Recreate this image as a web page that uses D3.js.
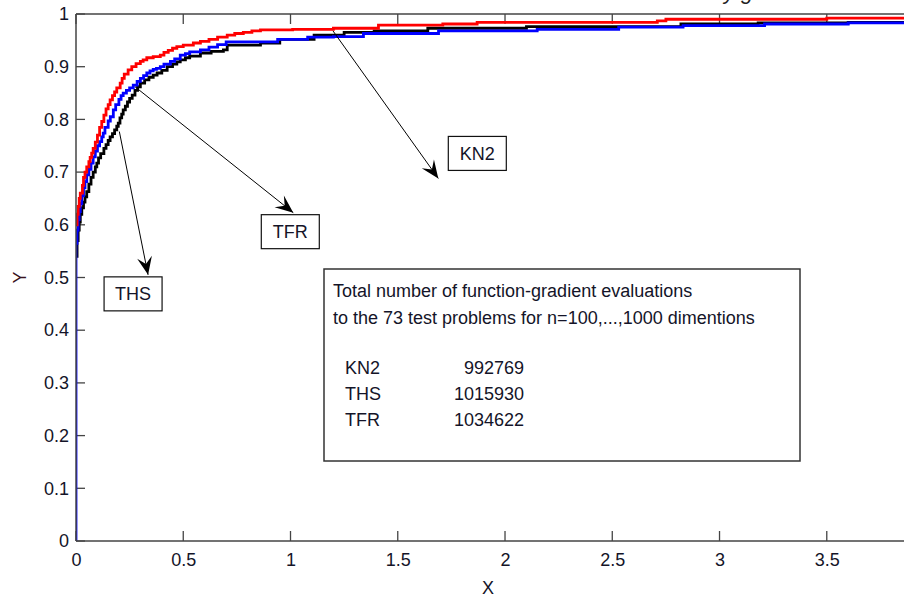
<!DOCTYPE html>
<html>
<head>
<meta charset="utf-8">
<script src="https://cdn.jsdelivr.net/npm/d3@7/dist/d3.min.js"></script>
<style>
  html, body { margin: 0; padding: 0; background: #fff; }
  svg { display: block; }
  text { font-family: "Liberation Sans", Arial, sans-serif; }
</style>
</head>
<body>
<svg id="chart" width="904" height="599"></svg>
<script>
// ---- data ----
const xTicks = [0, 0.5, 1, 1.5, 2, 2.5, 3, 3.5];
const yTicks = [0, 0.1, 0.2, 0.3, 0.4, 0.5, 0.6, 0.7, 0.8, 0.9, 1];
const yTickLabels = ["0", "0.1", "0.2", "0.3", "0.4", "0.5", "0.6", "0.7", "0.8", "0.9", "1"];

const redX = [0, 0.005, 0.01, 0.015, 0.02, 0.03, 0.035, 0.042, 0.05, 0.06, 0.066, 0.073, 0.08, 0.09, 0.1, 0.11, 0.12, 0.13, 0.14, 0.15, 0.159, 0.17, 0.18, 0.19, 0.206, 0.215, 0.225, 0.243, 0.26, 0.28, 0.3, 0.313, 0.33, 0.36, 0.393, 0.41, 0.43, 0.45, 0.47, 0.5, 0.547, 0.58, 0.62, 0.66, 0.705, 0.74, 0.78, 0.82, 0.86, 1.01, 1.2, 1.41, 1.71, 1.87, 2.71, 2.75, 3.5, 4];
const redY = [0.60, 0.62, 0.635, 0.65, 0.66, 0.675, 0.69, 0.70, 0.71, 0.72, 0.728, 0.736, 0.745, 0.757, 0.77, 0.785, 0.796, 0.808, 0.82, 0.828, 0.837, 0.845, 0.852, 0.86, 0.869, 0.878, 0.886, 0.894, 0.90, 0.906, 0.91, 0.913, 0.917, 0.919, 0.922, 0.927, 0.931, 0.935, 0.938, 0.941, 0.945, 0.948, 0.952, 0.956, 0.960, 0.963, 0.965, 0.968, 0.970, 0.971, 0.973, 0.979, 0.981, 0.984, 0.987, 0.990, 0.992, 0.992];

const blueX = [0, 0, 0.005, 0.01, 0.015, 0.02, 0.027, 0.035, 0.042, 0.05, 0.06, 0.07, 0.08, 0.09, 0.1, 0.11, 0.12, 0.127, 0.135, 0.15, 0.16, 0.174, 0.185, 0.2, 0.21, 0.22, 0.235, 0.25, 0.267, 0.285, 0.3, 0.315, 0.33, 0.345, 0.36, 0.375, 0.393, 0.41, 0.44, 0.46, 0.486, 0.51, 0.53, 0.58, 0.62, 0.66, 0.70, 0.86, 0.94, 1.08, 1.2, 1.34, 1.69, 2.15, 2.53, 2.83, 3.21, 3.6, 4];
const blueY = [0, 0.565, 0.59, 0.61, 0.625, 0.64, 0.655, 0.67, 0.682, 0.695, 0.705, 0.717, 0.729, 0.74, 0.75, 0.758, 0.767, 0.774, 0.785, 0.797, 0.805, 0.818, 0.828, 0.838, 0.845, 0.850, 0.855, 0.86, 0.865, 0.872, 0.878, 0.883, 0.888, 0.892, 0.895, 0.897, 0.90, 0.905, 0.91, 0.915, 0.922, 0.925, 0.928, 0.932, 0.937, 0.942, 0.947, 0.947, 0.952, 0.956, 0.957, 0.963, 0.968, 0.971, 0.975, 0.978, 0.981, 0.983, 0.983];

const blackX = [0, 0.005, 0.01, 0.015, 0.02, 0.027, 0.035, 0.042, 0.05, 0.06, 0.07, 0.08, 0.09, 0.097, 0.105, 0.115, 0.13, 0.14, 0.15, 0.159, 0.17, 0.18, 0.19, 0.197, 0.205, 0.213, 0.22, 0.23, 0.24, 0.25, 0.262, 0.275, 0.287, 0.3, 0.32, 0.34, 0.36, 0.378, 0.4, 0.425, 0.45, 0.47, 0.486, 0.51, 0.53, 0.58, 0.63, 0.687, 0.705, 0.86, 0.95, 1.11, 1.25, 1.39, 1.64, 2.1, 2.82, 3.18, 3.6, 4];
const blackY = [0.54, 0.57, 0.59, 0.605, 0.62, 0.632, 0.643, 0.653, 0.663, 0.677, 0.69, 0.70, 0.71, 0.717, 0.727, 0.735, 0.745, 0.752, 0.76, 0.767, 0.773, 0.78, 0.787, 0.793, 0.803, 0.81, 0.818, 0.825, 0.833, 0.84, 0.846, 0.855, 0.862, 0.869, 0.875, 0.88, 0.884, 0.888, 0.893, 0.90, 0.905, 0.909, 0.913, 0.917, 0.92, 0.926, 0.929, 0.932, 0.941, 0.945, 0.952, 0.960, 0.965, 0.968, 0.973, 0.976, 0.981, 0.983, 0.984, 0.984];

const labelNames = ["THS", "TFR", "KN2"];
// arrow tail / head in data coordinates
const arrowFromX = [0.202, 0.275, 1.198];
const arrowFromY = [0.777, 0.862, 0.968];
const arrowToX = [0.336, 1.013, 1.689];
const arrowToY = [0.505, 0.623, 0.688];

const infoLines = ["Total number of function-gradient evaluations", "to the 73 test problems for n=100,...,1000 dimentions"];
const solverNames = ["KN2", "THS", "TFR"];
const evalTotals = ["992769", "1015930", "1034622"];

// ---- layout ----
const svg = d3.select("#chart");
const mLeft = 76, mTop = 14, mBottom = 541, mRight = 904;
const x = d3.scaleLinear().domain([0, 3.86]).range([mLeft, mRight]);
const y = d3.scaleLinear().domain([0, 1]).range([mBottom, mTop]);
const axisColor = "#444";
const textColor = "#141428";

// title fragments (the title line is cut off at the top in the reference)
const titleG = svg.append("g").attr("font-family", "'Liberation Serif', 'Times New Roman', serif")
  .attr("font-style", "italic").attr("font-size", 22).attr("fill", "#222");
titleG.append("text").attr("x", 271).attr("y", -1).text("f");
titleG.append("text").attr("x", 724).attr("y", -1).text("y g");

// axes
const axG = svg.append("g");
const xAxis = d3.axisBottom(x).tickValues(xTicks).tickSize(0).tickPadding(12).tickFormat(d3.format("~g"));
const gx = axG.append("g").attr("transform", `translate(0,${mBottom})`).call(xAxis);
gx.select(".domain").remove();
gx.selectAll("text").attr("font-size", 18).attr("fill", textColor).attr("font-family", "'Liberation Sans', Arial, sans-serif");

const yAxis = d3.axisLeft(y).tickValues(yTicks).tickSize(0).tickPadding(7).tickFormat((d, i) => yTickLabels[i]);
const gy = axG.append("g").attr("transform", `translate(${mLeft},0)`).call(yAxis);
gy.select(".domain").remove();
gy.selectAll("text").attr("font-size", 18).attr("fill", textColor).attr("font-family", "'Liberation Sans', Arial, sans-serif");

// inward ticks
const tickG = svg.append("g").attr("stroke", axisColor).attr("stroke-width", 1.3);
xTicks.forEach(t => {
  tickG.append("line").attr("x1", x(t)).attr("x2", x(t)).attr("y1", mBottom).attr("y2", mBottom - 10);
  tickG.append("line").attr("x1", x(t)).attr("x2", x(t)).attr("y1", mTop).attr("y2", mTop + 10);
});
yTicks.forEach(t => {
  tickG.append("line").attr("x1", mLeft).attr("x2", mLeft + 9).attr("y1", y(t)).attr("y2", y(t));
});

// curves
const line = d3.line().x(d => x(d[0])).y(d => y(d[1])).curve(d3.curveStepAfter);
const series = [
  { xs: blackX, ys: blackY, color: "#000000" },
  { xs: blueX, ys: blueY, color: "#0000ff" },
  { xs: redX, ys: redY, color: "#ff0000" }
];
svg.append("clipPath").attr("id", "clip").append("rect")
  .attr("x", mLeft).attr("y", mTop - 2).attr("width", mRight - mLeft + 10).attr("height", mBottom - mTop + 4);
series.forEach(s => {
  svg.append("path").datum(s.xs.map((v, i) => [v, s.ys[i]]))
    .attr("clip-path", "url(#clip)")
    .attr("fill", "none").attr("stroke", s.color).attr("stroke-width", 2.8)
    .attr("d", line);
});

// axis box lines
const boxG = svg.append("g").attr("stroke", axisColor).attr("stroke-width", 1.5).attr("fill", "none");
boxG.append("line").attr("x1", mLeft).attr("x2", mRight).attr("y1", mBottom).attr("y2", mBottom);
boxG.append("line").attr("x1", mLeft).attr("x2", mRight).attr("y1", mTop).attr("y2", mTop);
boxG.append("line").attr("x1", mLeft).attr("x2", mLeft).attr("y1", mTop).attr("y2", mBottom);

// axis labels
svg.append("text").attr("x", 488).attr("y", 594).attr("text-anchor", "middle")
  .attr("font-size", 18).attr("fill", textColor).text("X");
svg.append("text").attr("transform", `translate(26,${(mTop + mBottom) / 2}) rotate(-90)`)
  .attr("text-anchor", "middle").attr("font-size", 18).attr("fill", "#3a1420").text("Y");

// arrows + labels
function arrowHead(x1, y1, x2, y2) {
  const ang = Math.atan2(y2 - y1, x2 - x1);
  const L = 18, W = 7.5, notch = 11;
  const pts = [
    [x2, y2],
    [x2 - L * Math.cos(ang) + W * Math.sin(ang), y2 - L * Math.sin(ang) - W * Math.cos(ang)],
    [x2 - notch * Math.cos(ang), y2 - notch * Math.sin(ang)],
    [x2 - L * Math.cos(ang) - W * Math.sin(ang), y2 - L * Math.sin(ang) + W * Math.cos(ang)]
  ];
  return "M" + pts.map(p => p.join(",")).join("L") + "Z";
}
const annG = svg.append("g");
const labelBoxW = 58, labelBoxH = 34;
labelNames.forEach((name, i) => {
  const x1 = x(arrowFromX[i]), y1 = y(arrowFromY[i]);
  const x2 = x(arrowToX[i]), y2 = y(arrowToY[i]);
  annG.append("line").attr("x1", x1).attr("y1", y1).attr("x2", x2).attr("y2", y2)
    .attr("stroke", "#000").attr("stroke-width", 1);
  annG.append("path").attr("d", arrowHead(x1, y1, x2, y2)).attr("fill", "#000");
});
// label boxes, placed relative to arrow heads
const boxOffX = [-44, -32, 10];
const boxOffY = [2, 2, -42];
labelNames.forEach((name, i) => {
  const bx = x(arrowToX[i]) + boxOffX[i], by = y(arrowToY[i]) + boxOffY[i];
  annG.append("rect").attr("x", bx).attr("y", by).attr("width", labelBoxW).attr("height", labelBoxH)
    .attr("fill", "#fff").attr("stroke", "#111").attr("stroke-width", 1.2);
  annG.append("text").attr("x", bx + labelBoxW / 2).attr("y", by + labelBoxH / 2 + 6.5)
    .attr("text-anchor", "middle").attr("font-size", 18).attr("fill", textColor).text(name);
});

// info box
const info = svg.append("g");
info.append("rect").attr("x", 324).attr("y", 269).attr("width", 476).attr("height", 192)
  .attr("fill", "#fff").attr("stroke", "#333").attr("stroke-width", 1.5);
infoLines.forEach((t, i) => {
  info.append("text").attr("x", 333).attr("y", 297 + i * 26.5)
    .attr("font-size", 18).attr("fill", textColor).text(t);
});
solverNames.forEach((t, i) => {
  info.append("text").attr("x", 345).attr("y", 374 + i * 25.8)
    .attr("font-size", 18).attr("fill", textColor).text(t);
  info.append("text").attr("x", 524).attr("y", 374 + i * 25.8).attr("text-anchor", "end")
    .attr("font-size", 18).attr("fill", textColor).text(evalTotals[i]);
});
</script>
</body>
</html>
